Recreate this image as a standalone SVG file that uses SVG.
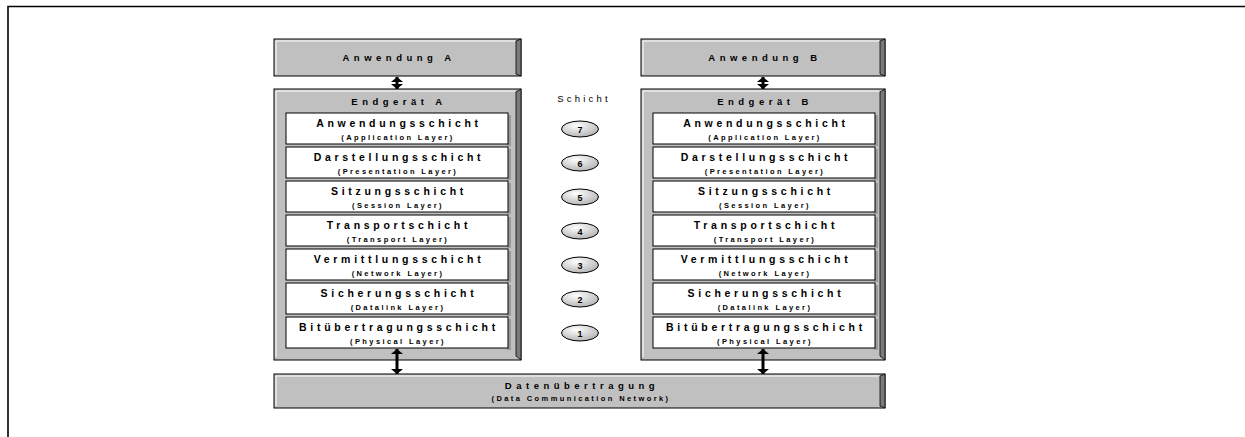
<svg xmlns="http://www.w3.org/2000/svg" width="1245" height="437" viewBox="0 0 1245 437">
<defs>
<style>
text{font-family:"Liberation Sans",Arial,sans-serif;fill:#000;text-anchor:middle}
.t{font-size:9.5px;font-weight:bold;letter-spacing:4.5px}
.l{font-size:10.5px;font-weight:bold;letter-spacing:3.7px}
.s{font-size:7.5px;font-weight:bold;letter-spacing:2.4px}
.n{font-size:9px;font-weight:bold}
.sch{font-size:9.5px;letter-spacing:3.2px}
.bev{fill:#c0c0c0;stroke:#000;stroke-width:1}
.dark{fill:#7a7a7a;stroke:#000;stroke-width:0.8}
.hl{stroke:#fff;stroke-width:1;fill:none}
.lay{fill:#fff;stroke:#000;stroke-width:1}
.lsh{fill:#9a9a9a}
.ar{stroke:#000;stroke-width:3;fill:none;marker-start:url(#ah);marker-end:url(#ah)}
.el{fill:url(#eg);stroke:#000;stroke-width:1}
</style>
<radialGradient id="eg" cx="0.4" cy="0.3" r="0.75">
<stop offset="0" stop-color="#ffffff"/>
<stop offset="1" stop-color="#b0b0b0"/>
</radialGradient>
<marker id="ah" viewBox="0 0 5 12" refX="5" refY="6" markerWidth="5" markerHeight="12" orient="auto-start-reverse" markerUnits="userSpaceOnUse">
<path d="M0,0 L5,6 L0,12 Z" fill="#000"/>
</marker>
</defs>
<rect width="1245" height="437" fill="#fff"/>
<path d="M8,437 V6.5 H1245" fill="none" stroke="#000" stroke-width="1.6"/>

<g id="anwendungA">
<rect class="bev" x="274" y="39" width="247" height="37"/>
<polygon class="dark" points="516,41 521,39 521,76 516,74"/>
<polyline class="hl" points="276,74 276,41 515,41"/>
<text class="t" x="399" y="61">Anwendung A</text>
</g>
<g id="anwendungB">
<rect class="bev" x="641" y="39" width="244" height="37"/>
<polygon class="dark" points="880,41 885,39 885,76 880,74"/>
<polyline class="hl" points="643,74 643,41 879,41"/>
<text class="t" x="765" y="61">Anwendung B</text>
</g>

<g id="endgeraetA">
<rect class="bev" x="274" y="89" width="247" height="271"/>
<polygon class="dark" points="516,92 521,89 521,360 516,356"/>
<polyline class="hl" points="276,357 276,91 515,91"/>
<text class="t" x="399" y="105">Endgerät A</text>
</g>
<g id="endgeraetB">
<rect class="bev" x="641" y="89" width="244" height="271"/>
<polygon class="dark" points="880,92 885,89 885,360 880,356"/>
<polyline class="hl" points="643,357 643,91 879,91"/>
<text class="t" x="765" y="105">Endgerät B</text>
</g>

<g id="layersA">
<g id="a7"><rect class="lsh" x="507" y="115" width="4" height="31"/><rect class="lay" x="286" y="113" width="222" height="31"/><text class="l" x="399" y="127">Anwendungsschicht</text><text class="s" x="398" y="140">(Application Layer)</text></g>
<g id="a6"><rect class="lsh" x="507" y="149" width="4" height="31"/><rect class="lay" x="286" y="147" width="222" height="31"/><text class="l" x="399" y="161">Darstellungsschicht</text><text class="s" x="398" y="174">(Presentation Layer)</text></g>
<g id="a5"><rect class="lsh" x="507" y="183" width="4" height="31"/><rect class="lay" x="286" y="181" width="222" height="31"/><text class="l" x="399" y="195">Sitzungsschicht</text><text class="s" x="398" y="208">(Session Layer)</text></g>
<g id="a4"><rect class="lsh" x="507" y="217" width="4" height="31"/><rect class="lay" x="286" y="215" width="222" height="31"/><text class="l" x="399" y="229">Transportschicht</text><text class="s" x="398" y="242">(Transport Layer)</text></g>
<g id="a3"><rect class="lsh" x="507" y="251" width="4" height="31"/><rect class="lay" x="286" y="249" width="222" height="31"/><text class="l" x="399" y="263">Vermittlungsschicht</text><text class="s" x="398" y="276">(Network Layer)</text></g>
<g id="a2"><rect class="lsh" x="507" y="285" width="4" height="31"/><rect class="lay" x="286" y="283" width="222" height="31"/><text class="l" x="399" y="297">Sicherungsschicht</text><text class="s" x="398" y="310">(Datalink Layer)</text></g>
<g id="a1"><rect class="lsh" x="507" y="319" width="4" height="31"/><rect class="lay" x="286" y="317" width="222" height="31"/><text class="l" x="399" y="331">Bitübertragungsschicht</text><text class="s" x="398" y="344">(Physical Layer)</text></g>
</g>

<g id="layersB">
<g id="b7"><rect class="lsh" x="874" y="115" width="4" height="31"/><rect class="lay" x="653" y="113" width="222" height="31"/><text class="l" x="766" y="127">Anwendungsschicht</text><text class="s" x="765" y="140">(Application Layer)</text></g>
<g id="b6"><rect class="lsh" x="874" y="149" width="4" height="31"/><rect class="lay" x="653" y="147" width="222" height="31"/><text class="l" x="766" y="161">Darstellungsschicht</text><text class="s" x="765" y="174">(Presentation Layer)</text></g>
<g id="b5"><rect class="lsh" x="874" y="183" width="4" height="31"/><rect class="lay" x="653" y="181" width="222" height="31"/><text class="l" x="766" y="195">Sitzungsschicht</text><text class="s" x="765" y="208">(Session Layer)</text></g>
<g id="b4"><rect class="lsh" x="874" y="217" width="4" height="31"/><rect class="lay" x="653" y="215" width="222" height="31"/><text class="l" x="766" y="229">Transportschicht</text><text class="s" x="765" y="242">(Transport Layer)</text></g>
<g id="b3"><rect class="lsh" x="874" y="251" width="4" height="31"/><rect class="lay" x="653" y="249" width="222" height="31"/><text class="l" x="766" y="263">Vermittlungsschicht</text><text class="s" x="765" y="276">(Network Layer)</text></g>
<g id="b2"><rect class="lsh" x="874" y="285" width="4" height="31"/><rect class="lay" x="653" y="283" width="222" height="31"/><text class="l" x="766" y="297">Sicherungsschicht</text><text class="s" x="765" y="310">(Datalink Layer)</text></g>
<g id="b1"><rect class="lsh" x="874" y="319" width="4" height="31"/><rect class="lay" x="653" y="317" width="222" height="31"/><text class="l" x="766" y="331">Bitübertragungsschicht</text><text class="s" x="765" y="344">(Physical Layer)</text></g>
</g>

<g id="datenuebertragung">
<rect class="bev" x="274" y="374" width="611" height="34"/>
<polygon class="dark" points="880,376 885,374 885,408 880,406"/>
<polyline class="hl" points="276,406 276,376 879,376"/>
<text class="t" x="582" y="389">Datenübertragung</text>
<text class="s" x="581" y="401">(Data Communication Network)</text>
</g>

<g id="schicht">
<text class="sch" x="584" y="102">Schicht</text>
<g id="s7"><ellipse class="el" cx="580" cy="129" rx="18.5" ry="8"/><text class="n" x="580" y="132.5">7</text></g>
<g id="s6"><ellipse class="el" cx="580" cy="163" rx="18.5" ry="8"/><text class="n" x="580" y="166.5">6</text></g>
<g id="s5"><ellipse class="el" cx="580" cy="197" rx="18.5" ry="8"/><text class="n" x="580" y="200.5">5</text></g>
<g id="s4"><ellipse class="el" cx="580" cy="231" rx="18.5" ry="8"/><text class="n" x="580" y="234.5">4</text></g>
<g id="s3"><ellipse class="el" cx="580" cy="265" rx="18.5" ry="8"/><text class="n" x="580" y="268.5">3</text></g>
<g id="s2"><ellipse class="el" cx="580" cy="299" rx="18.5" ry="8"/><text class="n" x="580" y="302.5">2</text></g>
<g id="s1"><ellipse class="el" cx="580" cy="333" rx="18.5" ry="8"/><text class="n" x="580" y="336.5">1</text></g>
</g>

<g id="connectors">
<line class="ar" x1="397" y1="77" x2="397" y2="89"/>
<line class="ar" x1="763" y1="77" x2="763" y2="89"/>
<line class="ar" x1="397" y1="349" x2="397" y2="374"/>
<line class="ar" x1="763" y1="349" x2="763" y2="374"/>
</g>
</svg>
